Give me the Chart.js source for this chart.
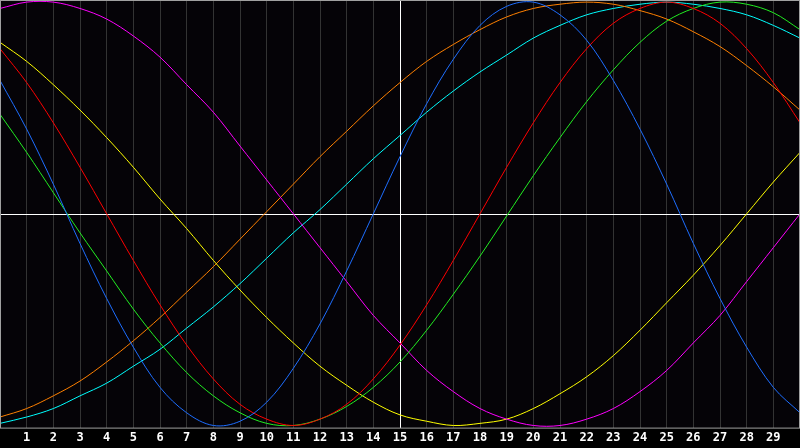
<!DOCTYPE html>
<html>
<head>
<meta charset="utf-8">
<script src="https://cdn.jsdelivr.net/npm/chart.js@4/dist/chart.umd.min.js"></script>
<style>
  html, body { margin: 0; padding: 0; background: #000; }
  #wrap { width: 800px; height: 448px; }
</style>
</head>
<body>
<div id="wrap"><canvas id="bio" width="800" height="448"></canvas></div>
<script>
// days 0..30, today = 15
const days = [0,1,2,3,4,5,6,7,8,9,10,11,12,13,14,15,16,17,18,19,20,21,22,23,24,25,26,27,28,29,30];
const today = 15;

const physical = [0.63,0.40,0.14,-0.14,-0.40,-0.63,-0.82,-0.94,-1.00,-0.98,-0.89,-0.73,-0.52,-0.27,0.00,0.27,0.52,0.73,0.89,0.98,1.00,0.94,0.82,0.63,0.40,0.14,-0.14,-0.40,-0.63,-0.82,-0.94];
const emotional = [0.78,0.62,0.43,0.22,0.00,-0.22,-0.43,-0.62,-0.78,-0.90,-0.97,-1.00,-0.97,-0.90,-0.78,-0.62,-0.43,-0.22,0.00,0.22,0.43,0.62,0.78,0.90,0.97,1.00,0.97,0.90,0.78,0.62,0.43];
const intellectual = [0.47,0.29,0.10,-0.09,-0.27,-0.45,-0.61,-0.75,-0.86,-0.94,-0.99,-1.00,-0.97,-0.91,-0.82,-0.70,-0.55,-0.38,-0.20,-0.01,0.18,0.36,0.53,0.68,0.81,0.91,0.97,1.00,0.99,0.95,0.87];
const intuitive = [0.97,1.00,1.00,0.97,0.92,0.84,0.74,0.61,0.48,0.32,0.16,0.00,-0.16,-0.32,-0.48,-0.61,-0.74,-0.84,-0.92,-0.97,-1.00,-1.00,-0.97,-0.92,-0.84,-0.74,-0.61,-0.48,-0.32,-0.16,0.00];
const aesthetic = [0.81,0.72,0.61,0.49,0.36,0.22,0.07,-0.07,-0.22,-0.36,-0.49,-0.61,-0.72,-0.81,-0.89,-0.95,-0.98,-1.00,-0.99,-0.97,-0.92,-0.85,-0.77,-0.67,-0.55,-0.42,-0.29,-0.15,0.00,0.15,0.29];
const awareness = [-0.96,-0.92,-0.86,-0.79,-0.70,-0.60,-0.49,-0.37,-0.25,-0.12,0.01,0.14,0.27,0.39,0.51,0.62,0.72,0.80,0.87,0.93,0.97,0.99,1.00,0.99,0.96,0.92,0.86,0.79,0.70,0.60,0.49];
const spiritual = [-0.99,-0.96,-0.92,-0.86,-0.80,-0.72,-0.64,-0.54,-0.44,-0.33,-0.21,-0.09,0.02,0.14,0.26,0.37,0.48,0.58,0.67,0.75,0.83,0.89,0.94,0.97,0.99,1.00,0.99,0.97,0.94,0.89,0.83];

const series = [
  { name: 'Physical', values: physical, color: '#1e6eff' },
  { name: 'Emotional', values: emotional, color: '#ff0000' },
  { name: 'Intellectual', values: intellectual, color: '#22ee22' },
  { name: 'Intuitive', values: intuitive, color: '#ff00ff' },
  { name: 'Aesthetic', values: aesthetic, color: '#ffff00' },
  { name: 'Awareness', values: awareness, color: '#ff8000' },
  { name: 'Spiritual', values: spiritual, color: '#00ffff' }
];

// frame, background and zero line
const framePlugin = {
  id: 'frame',
  beforeDraw(chart) {
    const { ctx, width, height } = chart;
    ctx.save();
    ctx.fillStyle = '#000000';
    ctx.fillRect(0, 0, width, height);
    const a = chart.chartArea;
    ctx.fillStyle = '#050307';
    ctx.fillRect(a.left, a.top, a.right - a.left, a.bottom - a.top);
    ctx.restore();
  },
  beforeDatasetsDraw(chart) {
    const { ctx } = chart;
    const a = chart.chartArea;
    const y0 = Math.round(chart.scales.y.getPixelForValue(0)) + 0.5;
    ctx.save();
    ctx.strokeStyle = '#ffffff';
    ctx.lineWidth = 1;
    ctx.beginPath();
    ctx.moveTo(a.left, y0);
    ctx.lineTo(a.right, y0);
    ctx.stroke();
    ctx.restore();
  },
  afterDraw(chart) {
    const { ctx } = chart;
    const a = chart.chartArea;
    ctx.save();
    ctx.strokeStyle = '#a0a0a0';
    ctx.lineWidth = 1;
    ctx.strokeRect(a.left + 0.5, a.top + 0.5, a.right - a.left - 1, a.bottom - a.top);
    ctx.restore();
  }
};

new Chart(document.getElementById('bio'), {
  type: 'line',
  data: {
    labels: days,
    datasets: series.map(s => ({
      label: s.name,
      data: s.values.map((v, i) => ({ x: days[i], y: v })),
      borderColor: s.color,
      borderWidth: 1,
      pointRadius: 0,
      tension: 0.35,
      fill: false
    }))
  },
  options: {
    responsive: false,
    animation: false,
    layout: { padding: 0 },
    plugins: { legend: { display: false }, tooltip: { enabled: false } },
    scales: {
      x: {
        type: 'linear',
        min: 0,
        max: 30,
        border: { display: false },
        afterFit: scale => { scale.paddingLeft = 0; scale.paddingRight = 0; },
        grid: {
          drawTicks: false,
          lineWidth: 1,
          color: c => c.tick.value === today ? '#ffffff' : (c.tick.value === 0 || c.tick.value === 30 ? 'rgba(0,0,0,0)' : '#333333')
        },
        ticks: {
          stepSize: 1,
          autoSkip: false,
          maxRotation: 0,
          padding: 3,
          color: '#ffffff',
          font: { family: 'DejaVu Sans Mono', size: 12, weight: 'bold', lineHeight: 1.2 },
          callback: v => (v >= 1 && v <= 29) ? String(v) : ''
        }
      },
      y: {
        display: false,
        min: -1.01,
        max: 1.01
      }
    }
  },
  plugins: [framePlugin]
});
</script>
</body>
</html>
